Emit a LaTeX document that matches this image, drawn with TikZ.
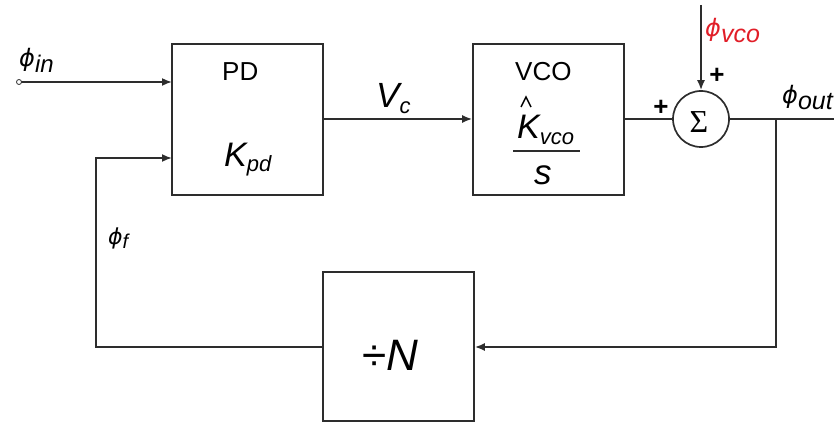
\documentclass[tikz,border=0pt]{standalone}
\usepackage{fontspec}
\setmainfont{Liberation Sans}
\newfontfamily\phifont{DejaVu Sans}
\newfontfamily\serifgr{Liberation Serif}
\usetikzlibrary{arrows.meta}
\definecolor{linegray}{RGB}{45,45,45}
\definecolor{phired}{RGB}{225,30,40}
\newcommand\fsz[1]{\fontsize{#1}{#1}\selectfont}
\newcommand\phisub[3]{{\fsz{#1}\phifont\itshape ϕ}{\fsz{#2}\raisebox{-0.22em}{\itshape #3}}}
\newcommand\itsub[4]{{\fsz{#1}\itshape #2}{\fsz{#3}\raisebox{-0.25em}{\itshape #4}}}
\begin{document}
\begin{tikzpicture}[x=1pt,y=-1pt,
  wire/.style={draw=linegray,line width=1.7pt},
  arr/.style={wire,-{Latex[length=10pt,width=8pt]}},
  blockbox/.style={draw=linegray,line width=1.7pt,minimum width=151pt,minimum height=151pt,inner sep=0pt},
  txt/.style={inner sep=0pt,text=black}]
\useasboundingbox (0,0) rectangle (834,422);
% blocks
\node[blockbox] (pd) at (247.5,119.5) {};
\node[blockbox] (vco) at (548.5,119.5) {};
\node[blockbox,minimum height=149pt] (div) at (398.5,346.5) {};
\node[draw=linegray,line width=1.7pt,circle,minimum size=56pt,inner sep=0pt] (sum) at (701,119) {};
% texts in blocks
\node[txt,anchor=base west] (pdt) at (222,81) {\fsz{26pt}PD};
\node[txt,anchor=base west] (kpd) at (224,166) {\itsub{34pt}{K}{22pt}{pd}};
\node[txt,anchor=base west] (vcot) at (515,81) {\fsz{26pt}VCO};
\draw[draw=black,line width=1.4pt] (521,107) -- (526,97) -- (531,107);
\node[txt,anchor=base west] (kvco) at (517,139) {\itsub{34pt}{K}{22pt}{vco}};
\draw[wire] (513,151) -- (580,151);
\node[txt,anchor=base west] (st) at (534,184) {\fsz{35pt}\itshape s};
\node[txt] (divt) at (390,355) {\fsz{44pt}÷\itshape N};
\node[txt] (sig) at (699,122) {\fsz{32pt}\serifgr Σ};
% coordinates
\coordinate (in) at (19,82);
\coordinate (pdin1) at (172,82);
\coordinate (pdin2) at (172,158);
\coordinate (top) at (701,5);
\coordinate (outend) at (834,119);
\coordinate (tap) at (776,119);
\coordinate (tapdown) at (776,347);
\coordinate (fbl) at (96,347);
\coordinate (fbu) at (96,158);
% connectors
\draw[arr] (in) -- (pdin1);
\filldraw[draw=linegray,fill=white,line width=0.8pt] (in) circle (2.5pt);
\draw[arr] (pd.east |- 0,119) -- (vco.west |- 0,119);
\draw[wire] (vco.east |- 0,119) -- (sum.west);
\draw[arr] (top) -- (sum.north);
\draw[wire] (sum.east) -- (outend);
\draw[arr] (tap) -- (tapdown) -- (div.east |- tapdown);
\draw[arr] (div.west |- fbl) -- (fbl) -- (fbu) -- (pdin2);
% labels
\node[txt,anchor=base west] (lin) at (19,67) {\phisub{24pt}{24pt}{in}};
\node[txt,anchor=base west] (lvc) at (376,108) {\itsub{35pt}{V}{22pt}{c}};
\node[txt,anchor=base west,text=phired] (lvco) at (705,37) {\color{phired}\phisub{24pt}{25pt}{vco}};
\node[txt] (plus1) at (717,76) {\fsz{26pt}\bfseries +};
\node[txt] (plus2) at (661,108) {\fsz{26pt}\bfseries +};
\node[txt,anchor=base west] (lout) at (782,104) {\phisub{24pt}{25pt}{out}};
\node[txt,anchor=base west] (lf) at (108,244) {\phisub{22pt}{20pt}{f}};
\end{tikzpicture}
\end{document}
